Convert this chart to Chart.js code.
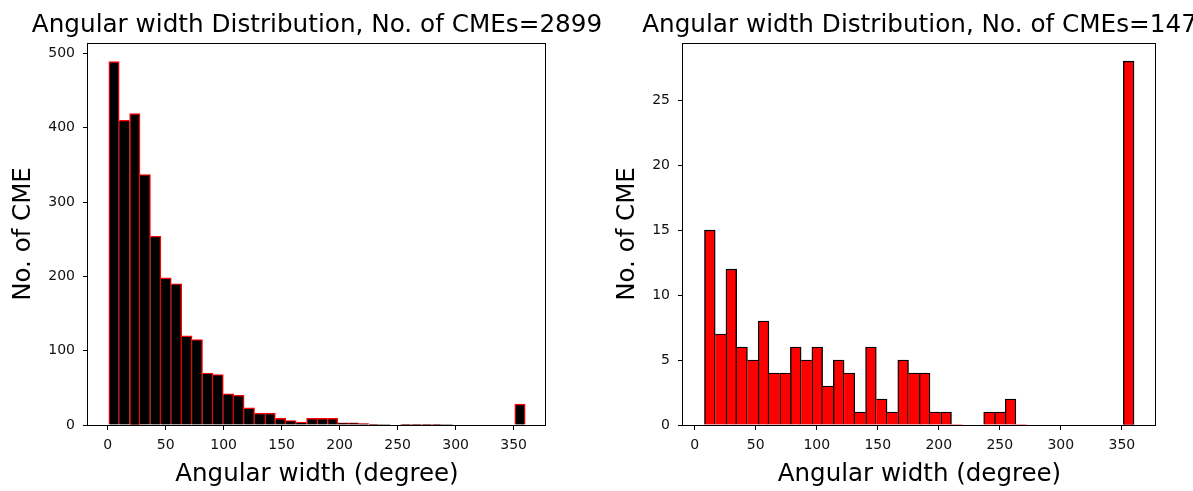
<!DOCTYPE html>
<html>
<head>
<meta charset="utf-8">
<title>Angular width Distribution</title>
<script src="https://cdn.jsdelivr.net/npm/chart.js@4/dist/chart.umd.min.js"></script>
<style>
  html, body { margin: 0; padding: 0; background: #fff; overflow: hidden; }
  #wrap { position: relative; width: 1193px; height: 491px; overflow: hidden; }
  canvas { position: absolute; top: 0; }
  #leftChart { left: 0; }
  #rightChart { left: 604px; }
</style>
</head>
<body>
<div id="wrap">
  <canvas id="leftChart" width="604" height="491"></canvas>
  <canvas id="rightChart" width="589" height="491"></canvas>
</div>
<script>
const FONT = 'DejaVu Sans';

// Histograma da esquerda (todos os CMEs), 40 bins
const leftTitle = 'Angular width Distribution, No. of CMEs=2899';
const leftBinStart = 1;
const leftBinWidth = 8.975;
const leftCounts = [
  489, 410, 419, 337, 254, 198, 190, 120, 115, 70,
  68, 42, 40, 23, 16, 16, 9, 6, 4, 9,
  9, 9, 3, 3, 2, 1, 0, 0, 1, 1,
  1, 1, 0, 0, 0, 0, 0, 0, 0, 28,
];
const leftYMax = 514;
const leftYTicks = [0, 100, 200, 300, 400, 500];
const leftXRange = [-16.95, 377.95];

// Histograma da direita, 40 bins
const rightTitle = 'Angular width Distribution, No. of CMEs=147';
const rightBinStart = 8;
const rightBinWidth = 8.8;
const rightCounts = [
  15, 7, 12, 6, 5, 8, 4, 4, 6, 5,
  6, 3, 5, 4, 1, 6, 2, 1, 5, 4,
  4, 1, 1, 0, 0, 0, 1, 1, 2, 0,
  0, 0, 0, 0, 0, 0, 0, 0, 0, 28,
];
const rightYMax = 29.4;
const rightYTicks = [0, 5, 10, 15, 20, 25];
const rightXRange = [-9.6, 378];

const xTicks = [0, 50, 100, 150, 200, 250, 300, 350];
const xLabel = 'Angular width (degree)';
const yLabel = 'No. of CME';

// moldura completa + título centralizado na área do gráfico
const frameAndTitle = {
  id: 'frameAndTitle',
  afterDraw(chart, args, opts) {
    const { ctx, chartArea: a } = chart;
    ctx.save();
    ctx.strokeStyle = '#000';
    ctx.lineWidth = 1;
    ctx.strokeRect(a.left - 0.5, a.top + 0.5, a.right - a.left, a.bottom - a.top);
    ctx.fillStyle = '#000';
    ctx.font = `24.7px "${FONT}"`;
    ctx.textAlign = 'center';
    ctx.textBaseline = 'alphabetic';
    ctx.fillText(opts.text, (a.left + a.right) / 2, 31.5);
    ctx.restore();
  },
};

// a aresta compartilhada fica com a barra mais alta
function edgeWidth(counts) {
  const w = 1.4;
  return (c) => {
    const i = c.dataIndex;
    const cur = counts[i];
    const prev = counts[i - 1];
    const next = counts[i + 1];
    return {
      top: w,
      bottom: 0,
      left: prev === undefined || prev <= cur ? w : 0,
      right: next === undefined || next < cur ? w : 0,
    };
  };
}

function makeHist(canvasId, cfg) {
  const data = cfg.counts.map((c, i) => ({ x: cfg.binStart + cfg.binWidth * (i + 0.5), y: c }));
  return new Chart(document.getElementById(canvasId), {
    type: 'bar',
    data: {
      datasets: [{
        data,
        backgroundColor: cfg.fill,
        borderColor: cfg.edge,
        borderWidth: edgeWidth(cfg.counts),
        borderSkipped: false,
        barPercentage: 1,
        categoryPercentage: 1,
      }],
    },
    plugins: [frameAndTitle],
    options: {
      responsive: false,
      animation: false,
      devicePixelRatio: 1,
      layout: { padding: { top: 43, right: cfg.padRight, bottom: 0, left: 0 } },
      plugins: {
        legend: { display: false },
        tooltip: { enabled: false },
        frameAndTitle: { text: cfg.title },
      },
      scales: {
        x: {
          type: 'linear',
          offset: false,
          min: cfg.xRange[0],
          max: cfg.xRange[1],
          afterBuildTicks: (s) => { s.ticks = xTicks.map((v) => ({ value: v })); },
          afterFit: (s) => { s.height = 66; },
          border: { display: false },
          grid: { offset: false, drawOnChartArea: false, drawTicks: true, tickLength: 5, color: '#000' },
          ticks: { color: '#111', font: { family: FONT, size: 14 }, padding: 7, maxRotation: 0, autoSkip: false },
          title: {
            display: true, text: xLabel, color: '#000',
            font: { family: FONT, size: 24.5 }, padding: { top: 0, bottom: 2 },
          },
        },
        y: {
          min: 0,
          max: cfg.yMax,
          afterBuildTicks: (s) => { s.ticks = cfg.yTicks.map((v) => ({ value: v })); },
          afterFit: (s) => { s.width = cfg.yWidth; },
          border: { display: false },
          grid: { offset: false, drawOnChartArea: false, drawTicks: true, tickLength: 5, color: '#000' },
          ticks: { color: '#111', font: { family: FONT, size: 14 }, padding: 8 },
          title: {
            display: true, text: yLabel, color: '#000',
            font: { family: FONT, size: 24.5 }, padding: { top: 9, bottom: 0 },
          },
        },
      },
    },
  });
}

makeHist('leftChart', {
  title: leftTitle, counts: leftCounts, binStart: leftBinStart, binWidth: leftBinWidth,
  yMax: leftYMax, yTicks: leftYTicks, xRange: leftXRange,
  fill: '#000000', edge: '#ff0000', yWidth: 88, padRight: 58,
});

makeHist('rightChart', {
  title: rightTitle, counts: rightCounts, binStart: rightBinStart, binWidth: rightBinWidth,
  yMax: rightYMax, yTicks: rightYTicks, xRange: rightXRange,
  fill: '#ff0000', edge: '#000000', yWidth: 79, padRight: 37,
});
</script>
</body>
</html>
